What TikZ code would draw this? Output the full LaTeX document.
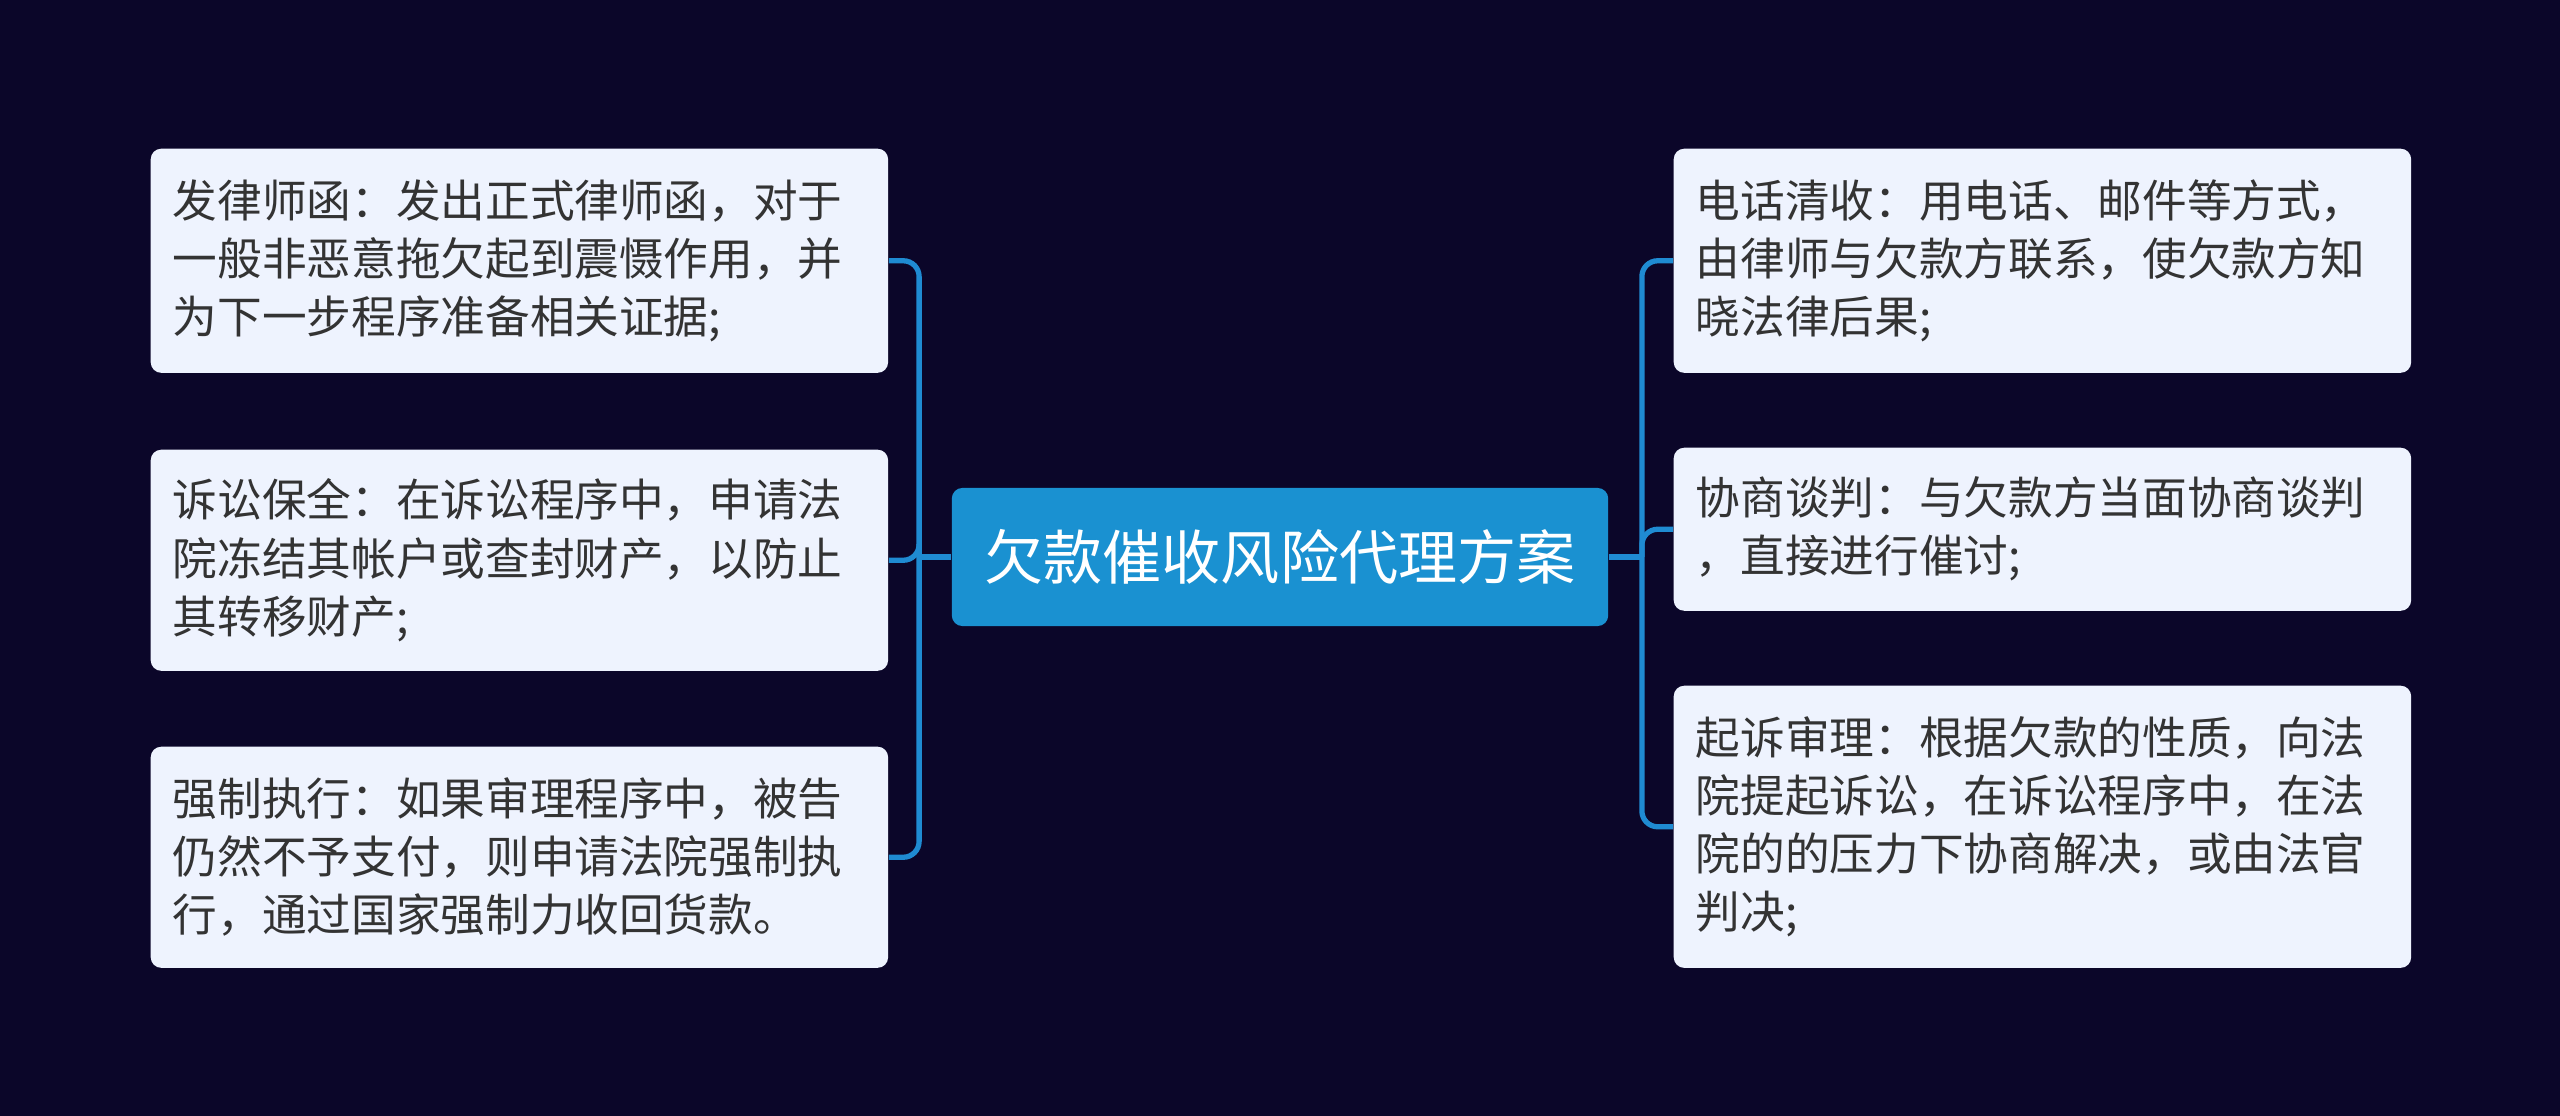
\documentclass[tikz,border=0pt]{standalone}
\usepackage{fontspec}
\setmainfont{Noto Sans CJK SC}
\usetikzlibrary{positioning}
\definecolor{mapnight}{HTML}{0B0629}
\definecolor{mapblue}{HTML}{1A91D1}
\definecolor{mapline}{HTML}{1F8BD2}
\definecolor{mapleaf}{HTML}{EEF3FE}
\definecolor{maptext}{HTML}{333333}

\begin{document}
\begin{tikzpicture}[
  x=0.01cm, y=-0.01cm,
  root/.style={fill=mapblue, rounded corners=3pt, text=white,
    minimum width=6.56cm, minimum height=1.38cm,
    font=\fontsize{16.8pt}{20pt}\selectfont},
  leaf/.style={fill=mapleaf, rounded corners=3pt, text=maptext, anchor=north west,
    text width=6.93cm, inner xsep=0.22cm, align=left,
    font=\fontsize{12.7pt}{16.5pt}\selectfont},
  conn/.style={draw=mapline, line width=1.5pt, rounded corners=4.5pt},
]

% canvas
\fill[mapnight] (0,0) rectangle (2560,1116);
\useasboundingbox (0,0) rectangle (2560,1116);

% geometry
\def\lx{150}     % left column
\def\rx{1673}    % right column

% ---------- centre ----------
\node[root] (plan) at (1280,557) {欠款催收风险代理方案};

% ---------- left branch ----------
\node[leaf, minimum height=2.24cm] (letter) at (\lx,148)
  {发律师函：发出正式律师函，对于\\一般非恶意拖欠起到震慑作用，并\\为下一步程序准备相关证据;};
\node[leaf, minimum height=2.21cm] (preserve) at (\lx,449)
  {诉讼保全：在诉讼程序中，申请法\\院冻结其帐户或查封财产，以防止\\其转移财产;};
\node[leaf, minimum height=2.21cm] (enforce) at (\lx,746)
  {强制执行：如果审理程序中，被告\\仍然不予支付，则申请法院强制执\\行，通过国家强制力收回货款。};

% ---------- right branch ----------
\node[leaf, minimum height=2.24cm] (phone) at (\rx,148)
  {电话清收：用电话、邮件等方式，\\由律师与欠款方联系，使欠款方知\\晓法律后果;};
\node[leaf, minimum height=1.63cm] (talks) at (\rx,447)
  {协商谈判：与欠款方当面协商谈判\\，直接进行催讨;};
\node[leaf, minimum height=2.82cm] (lawsuit) at (\rx,685)
  {起诉审理：根据欠款的性质，向法\\院提起诉讼，在诉讼程序中，在法\\院的的压力下协商解决，或由法官\\判决;};

% ---------- connectors ----------
\draw[conn] (plan.west) -- ++(-32,0) coordinate (ljoin);
\draw[conn] (plan.east) -- ++(33,0) coordinate (rjoin);
\foreach \n in {letter,preserve,enforce}
  \draw[conn] (ljoin) |- (\n.east);
\foreach \n in {phone,talks,lawsuit}
  \draw[conn] (rjoin) |- (\n.west);

\end{tikzpicture}
\end{document}
